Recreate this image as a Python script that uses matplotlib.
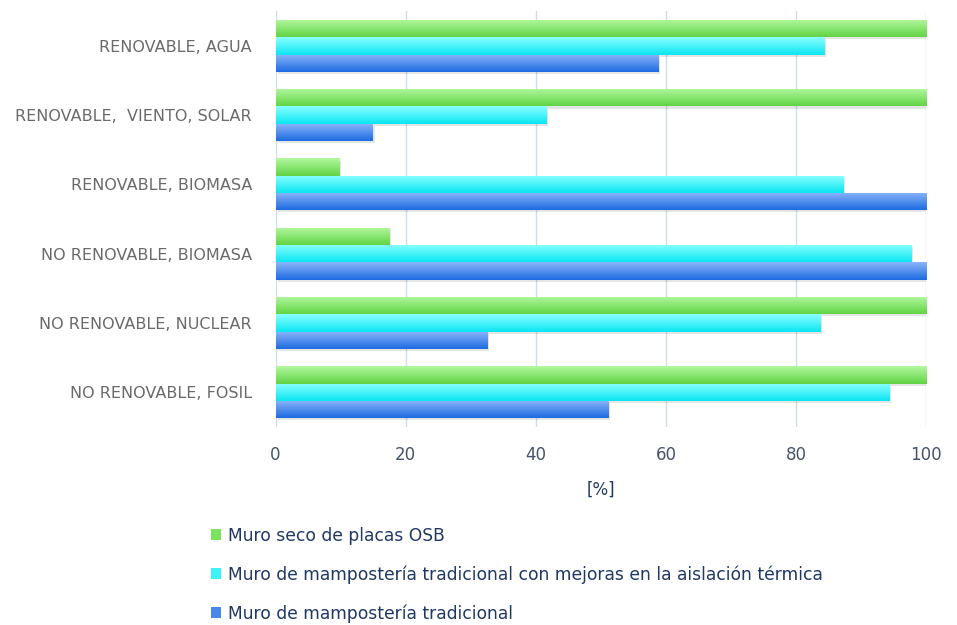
import numpy as np
import matplotlib
matplotlib.use("Agg")
import matplotlib.pyplot as plt
from matplotlib.colors import LinearSegmentedColormap
from matplotlib.patches import Patch

# categorias (de abajo hacia arriba)
categorias = ['NO RENOVABLE, FOSIL', 'NO RENOVABLE, NUCLEAR', 'NO RENOVABLE, BIOMASA',
              'RENOVABLE, BIOMASA', 'RENOVABLE,  VIENTO, SOLAR', 'RENOVABLE, AGUA']
series = ['Muro seco de placas OSB',
          'Muro de mampostería tradicional con mejoras en la aislación térmica',
          'Muro de mampostería tradicional']
osb = [100, 100, 17.5, 9.7, 100, 100]
mejorado = [94.2, 83.7, 97.7, 87.2, 41.5, 84.3]
tradicional = [51.1, 32.5, 100, 100, 14.9, 58.8]
xticks = [0, 20, 40, 60, 80, 100]

# gradientes (arriba claro, abajo oscuro)
grad = [('#B2F8A0', '#62D444'), ('#8AFFFF', '#0AE6F2'), ('#8CB4FA', '#1C6CE0')]
base = ['#7CE35E', '#3EF2F8', '#4A86EC']

fig = plt.figure(figsize=(9.57, 6.25), dpi=100)
ax = fig.add_axes([0.288, 0.317, 0.680, 0.665])

y = np.arange(len(categorias))
h = 0.25
offs = [h, 0, -h]
valores = [osb, mejorado, tradicional]

for k in range(3):
    bars = ax.barh(y + offs[k], valores[k], height=h, color=base[k], zorder=3)
    cmap = LinearSegmentedColormap.from_list('g%d' % k, [grad[k][1], grad[k][0]])
    for b in bars:
        x0, y0, w, hh = b.get_x(), b.get_y(), b.get_width(), b.get_height()
        # sombra
        ax.add_patch(plt.Rectangle((x0 + 0.3, y0 - 0.03), w, hh, color='#000000',
                                   alpha=0.10, lw=0, zorder=2))
        im = ax.imshow(np.linspace(0, 1, 50).reshape(-1, 1), cmap=cmap, aspect='auto',
                       extent=[x0, x0 + w, y0, y0 + hh], origin='lower', zorder=4)
        im.set_clip_path(b)

ax.set_xlim(0, 100)
ax.set_ylim(-0.5, len(categorias) - 0.5)
ax.set_xticks(xticks)
ax.set_yticks(y)
ax.set_yticklabels(categorias, fontsize=11.5, color='#6A6A6A')
ax.set_xticklabels([str(t) for t in xticks], fontsize=12, color='#44546A')
ax.tick_params(length=0, pad=14)
ax.tick_params(axis='y', pad=17)
ax.grid(axis='x', color='#D0DCEC', lw=1, zorder=0)
for s in ax.spines.values():
    s.set_visible(False)
ax.set_xlabel('[%]', fontsize=12, color='#1F3864', labelpad=12)

handles = [Patch(facecolor=base[k]) for k in range(3)]
fig.legend(handles, series, loc='upper left', bbox_to_anchor=(0.213, 0.168),
           frameon=False, labelcolor='#1F3864', prop={'size': 12.3},
           handlelength=0.6, handleheight=0.6, handletextpad=0.4, labelspacing=1.2,
           borderaxespad=0)

fig.savefig('out.png', dpi=100)
